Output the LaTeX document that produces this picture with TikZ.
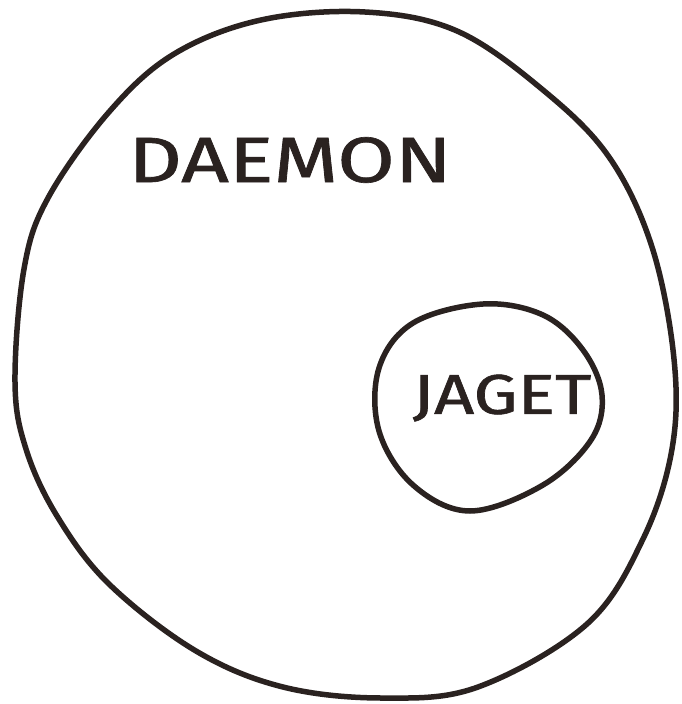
\documentclass[tikz,border=0pt]{standalone}
\usepackage{fontspec}
\setmainfont{Fira Sans}
\newfontfamily\handfont{Fira Sans}[FakeBold=1.0]
\definecolor{ink}{HTML}{2A2220}
\begin{document}
\begin{tikzpicture}[x=1pt,y=-1pt,
  outline/.style={draw=ink,line width=5.5pt,line join=round},
  label/.style={text=ink,inner sep=0pt,anchor=center}]
\useasboundingbox (0,0) rectangle (682,704);
\fill[white] (0,0) rectangle (682,704);
% big circle
\draw[outline] plot[smooth cycle,tension=0.6] coordinates {
 (365,12) (457,31) (543,90) (609,157) (652,247) (674,359) (672,449)
 (643,539) (587,624) (478,687) (383,698) (283,687) (196,651) (109,584)
 (57,516) (26,449) (15,382) (24,269) (48,198) (109,112) (174,54) (261,20)};
% small circle
\draw[outline] plot[smooth cycle,tension=0.6] coordinates {
 (483,304) (543,315) (583,350) (602,395) (591,440) (543,485) (470,511)
 (413,485) (379,431) (379,368) (413,323)};
\node[label,font=\handfont\fontsize{64}{64}\selectfont,xscale=1.3] (daemon) at (290,160) {DAEMON};
\node[label,font=\handfont\fontsize{56}{56}\selectfont,xscale=1.25] (jaget) at (502,398) {JAGET};
\end{tikzpicture}
\end{document}
